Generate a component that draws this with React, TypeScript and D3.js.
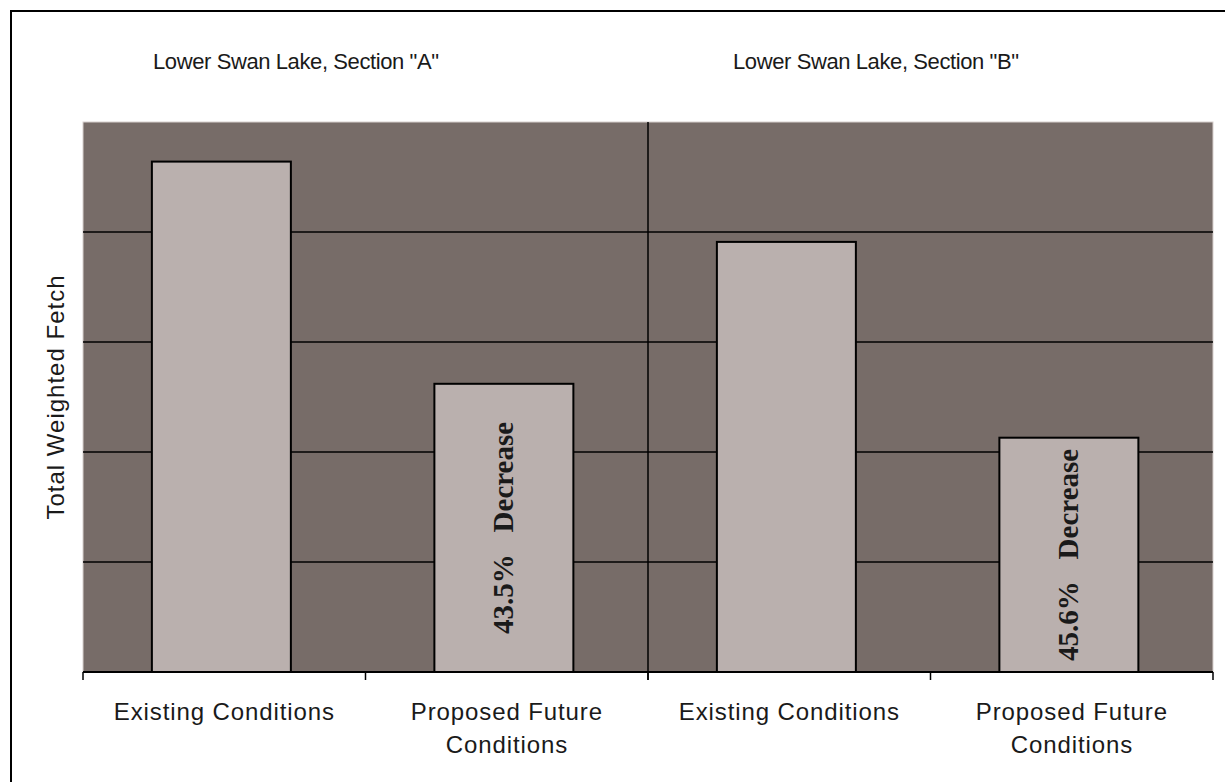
import React from "react";
import * as d3 from "d3";

// ---- data ----
const sections = ['Lower Swan Lake, Section "A"', 'Lower Swan Lake, Section "B"'];
const categoryKeys = ["A-existing", "A-proposed", "B-existing", "B-proposed"];
const categoryLabels = [
  ["Existing Conditions"],
  ["Proposed Future", "Conditions"],
  ["Existing Conditions"],
  ["Proposed Future", "Conditions"],
];
const fetchValues = [4.64, 2.62, 3.91, 2.13];
const decreaseLabels = ["", "43.5%", "", "45.6%"];
const yTicks = [1, 2, 3, 4];
const yLabel = "Total Weighted Fetch";

// ---- layout ----
const W = 1225;
const H = 782;
const plot = { left: 83, right: 1213, top: 122, bottom: 672 };
const titleStartOffsets = [70, 85];
const sansFont = "'Liberation Sans', Arial, sans-serif";
const serifFont = "'Liberation Serif', 'Times New Roman', serif";
const bgColor = "#776c68";
const barColor = "#bab0ae";
const ink = "#1a1a1a";

export default function App() {
  const x = d3
    .scaleBand<string>()
    .domain(categoryKeys)
    .range([plot.left, plot.right])
    .paddingInner(0.508)
    .paddingOuter(0.254)
    .align(0.48);
  const y = d3.scaleLinear().domain([0, 5]).range([plot.bottom, plot.top]);
  const step = (plot.right - plot.left) / categoryKeys.length;
  const boundaries = d3.range(categoryKeys.length + 1).map((i) => plot.left + i * step);
  const sectionWidth = (plot.right - plot.left) / sections.length;

  return (
    <svg
      width={W}
      height={H}
      style={{ position: "absolute", left: 0, top: 0, background: "#fff" }}
    >
      <rect x={11} y={11} width={1240} height={800} fill="#fff" stroke="#000" strokeWidth={2} />

      {/* titles */}
      {sections.map((s, i) => (
        <text
          key={s}
          x={plot.left + i * sectionWidth + titleStartOffsets[i]}
          y={69}
          fontFamily={sansFont}
          fontSize={22}
          letterSpacing={-0.4}
          fill={ink}
        >
          {s}
        </text>
      ))}

      {/* plot area */}
      <rect
        x={plot.left}
        y={plot.top}
        width={plot.right - plot.left}
        height={plot.bottom - plot.top}
        fill={bgColor}
        stroke="#d8d0ce"
        strokeWidth={1}
      />

      {/* gridlines */}
      {yTicks.map((t) => (
        <line
          key={t}
          x1={plot.left}
          x2={plot.right}
          y1={y(t)}
          y2={y(t)}
          stroke="#000"
          strokeWidth={1.5}
        />
      ))}

      {/* section divider */}
      <line
        x1={boundaries[2]}
        x2={boundaries[2]}
        y1={plot.top}
        y2={plot.bottom + 8}
        stroke="#000"
        strokeWidth={1.5}
      />

      {/* bars */}
      {categoryKeys.map((k, i) => (
        <rect
          key={k}
          x={x(k)}
          y={y(fetchValues[i])}
          width={x.bandwidth()}
          height={y(0) - y(fetchValues[i])}
          fill={barColor}
          stroke="#000"
          strokeWidth={2}
        />
      ))}

      {/* decrease labels */}
      {categoryKeys.map((k, i) =>
        decreaseLabels[i] ? (
          <text
            key={k + "-lbl"}
            transform={`translate(${(x(k) as number) + x.bandwidth() / 2 - 1},${
              (y(fetchValues[i]) + y(0)) / 2
            }) rotate(-90)`}
            textAnchor="middle"
            dy="0.35em"
            fontFamily={serifFont}
            fontWeight="bold"
            fontSize={29}
            fill={ink}
            style={{ whiteSpace: "pre" }}
          >
            {decreaseLabels[i] + "   Decrease"}
          </text>
        ) : null
      )}

      {/* baseline & ticks */}
      <line
        x1={plot.left}
        x2={plot.right}
        y1={plot.bottom}
        y2={plot.bottom}
        stroke="#000"
        strokeWidth={2}
      />
      {boundaries.map((b, i) => (
        <line
          key={i}
          x1={b}
          x2={b}
          y1={plot.bottom}
          y2={plot.bottom + 8}
          stroke="#000"
          strokeWidth={1.5}
        />
      ))}

      {/* category labels */}
      {categoryKeys.map((k, i) => (
        <text
          key={k + "-cat"}
          x={(x(k) as number) + x.bandwidth() / 2 + 3}
          y={720}
          textAnchor="middle"
          fontFamily={sansFont}
          fontSize={24}
          letterSpacing={0.9}
          fill={ink}
        >
          {categoryLabels[i].map((line, j) => (
            <tspan key={j} x={(x(k) as number) + x.bandwidth() / 2 + 3} dy={j === 0 ? 0 : 33}>
              {line}
            </tspan>
          ))}
        </text>
      ))}

      {/* y label */}
      <text
        transform={`translate(64,${(plot.top + plot.bottom) / 2}) rotate(-90)`}
        textAnchor="middle"
        fontFamily={sansFont}
        fontSize={24}
        letterSpacing={1}
        fill={ink}
      >
        {yLabel}
      </text>
    </svg>
  );
}
